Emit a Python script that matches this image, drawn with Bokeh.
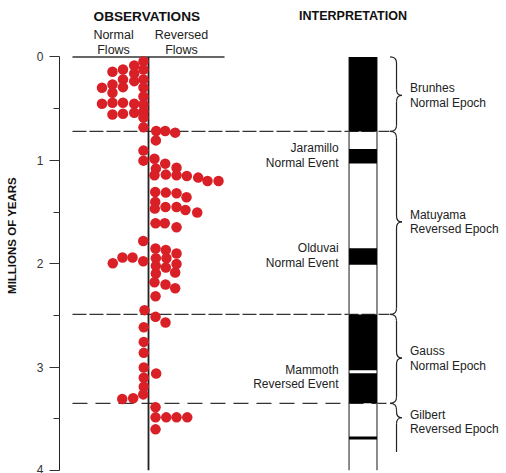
from bokeh.plotting import figure
from bokeh.models import Range1d, FixedTicker
from bokeh.core.properties import value
from bokeh.embed import file_html
from bokeh.resources import INLINE

# ---------------- data ----------------
# Observed lava flows: horizontal stacking index (negative = normal, positive = reversed), age in My
normal_x = [-0.48, -0.48, -0.48, -0.48, -0.48, -0.48, -0.48, -0.48, -0.48,
            -1.36, -1.36, -1.36, -1.36, -1.36,
            -2.43, -2.43, -2.43, -2.43, -2.43,
            -3.43, -3.43, -3.43, -3.43, -3.43,
            -4.43, -4.43,
            -0.48, -0.48, -0.50, -2.48, -1.52, -3.40, -0.50, -0.38,
            -0.45, -0.45, -0.45, -0.45, -0.45, -0.45, -0.50, -1.46, -2.50]
normal_age = [0.043, 0.121, 0.217, 0.295, 0.382, 0.459, 0.527, 0.585, 0.681,
              0.082, 0.159, 0.234, 0.452, 0.539,
              0.121, 0.217, 0.292, 0.443, 0.549,
              0.143, 0.266, 0.346, 0.443, 0.556,
              0.298, 0.452,
              0.906, 1.003, 1.780, 1.940, 1.940, 1.995, 1.976, 2.449,
              2.614, 2.756, 2.862, 3.003, 3.103, 3.190, 3.264, 3.302, 3.309]

reversed_x = [0.73, 1.59, 2.54, 0.70, 0.57, 1.59, 0.70, 2.67, 0.57, 1.65, 2.67, 3.65,
              4.73, 5.62, 6.67, 0.64, 1.65, 2.67, 3.62, 0.64, 0.60, 1.62, 2.67, 3.52,
              4.64, 0.67, 1.55, 2.67, 0.67, 1.65, 2.67, 0.70, 1.71, 2.67, 0.70, 1.65,
              0.70, 2.54, 0.57, 1.62, 2.54, 0.67, 0.67, 1.62, 0.73, 0.67, 0.67, 1.69,
              2.67, 3.69, 0.67]
reversed_age = [0.717, 0.717, 0.732, 0.807, 0.984, 1.032, 1.080, 1.071, 1.145, 1.138, 1.145, 1.152,
                1.167, 1.200, 1.200, 1.306, 1.312, 1.319, 1.357, 1.403, 1.467, 1.451, 1.451, 1.480,
                1.505, 1.609, 1.609, 1.647, 1.853, 1.867, 1.901, 1.947, 1.947, 2.002, 2.021, 2.037,
                2.095, 2.085, 2.179, 2.201, 2.237, 2.314, 2.514, 2.568, 3.061, 3.389, 3.486, 3.486,
                3.486, 3.486, 3.602]

# Interpretation: normal-polarity intervals (black)
normal_start = [0.00, 0.89, 1.85, 2.49, 3.06, 3.67]
normal_end = [0.72, 1.03, 2.01, 3.03, 3.35, 3.70]

# Epochs
epoch_name = ["Brunhes", "Matuyama", "Gauss", "Gilbert"]
epoch_kind = ["Normal Epoch", "Reversed Epoch", "Normal Epoch", "Reversed Epoch"]
epoch_start = [0.00, 0.72, 2.49, 3.35]
epoch_end = [0.72, 2.49, 3.35, 3.82]
epoch_tip = [0.372, 1.596, 2.913, 3.49]
epoch_open = [False, False, False, True]
boundary_age = [0.72, 2.49, 3.35]
boundary_dash = ["14 3", "14 3", "15 8"]

# Events
event_name = ["Jaramillo", "Olduvai", "Mammoth"]
event_kind = ["Normal Event", "Normal Event", "Reversed Event"]
event_age = [0.96, 1.93, 3.07]

age_ticks = [0, 1, 2, 3, 4]
age_minor = [0.5, 1.5, 2.5, 3.5]

# ---------------- figure ----------------
PXY = 470 / 4.546  # px per My
PXX = 10.5         # px per x unit

p = figure(width=506, height=473, output_backend="svg", toolbar_location=None,
           x_range=Range1d(-8.476, 34.095), y_range=Range1d(4.0, -0.546),
           min_border_left=59, min_border_right=0, min_border_top=0, min_border_bottom=3,
           x_axis_type=None)
p.outline_line_color = None
p.xgrid.visible = False
p.ygrid.visible = False
p.background_fill_color = "white"

ax = p.yaxis[0]
ax.ticker = FixedTicker(ticks=age_ticks, minor_ticks=age_minor)
ax.bounds = (0, 4)
ax.axis_line_color = "#222222"
ax.major_tick_out = 10
ax.major_tick_in = 0
ax.minor_tick_out = 6
ax.minor_tick_in = 0
ax.major_tick_line_color = "#333333"
ax.minor_tick_line_color = "#333333"
ax.major_label_standoff = 6
ax.major_label_text_font = "Liberation Sans"
ax.major_label_text_font_size = "12px"
ax.major_label_text_color = "#333333"
ax.axis_label = "MILLIONS OF YEARS"
ax.axis_label_text_font = "Liberation Sans"
ax.axis_label_text_font_style = "bold"
ax.axis_label_text_font_size = "11.5px"
ax.axis_label_text_color = "#111111"
ax.axis_label_standoff = 16

FONT = value("Liberation Sans")
DY = -4 / PXY  # text baseline correction

# observation frame
obs_half = 7.24
p.segment(x0=[-obs_half], y0=[0], x1=[obs_half], y1=[0], line_color="#333333", line_width=1.5)
for a, d in zip(boundary_age, boundary_dash):
    p.segment(x0=[-obs_half], y0=[a], x1=[22.95], y1=[a], line_color="#333333",
              line_width=1.3, line_dash=d)
p.segment(x0=[0], y0=[0], x1=[0], y1=[4], line_color="#222222", line_width=1.8)

# flows
p.scatter(x=normal_x, y=normal_age, size=10.5, fill_color="#d92027", line_color=None)
p.scatter(x=reversed_x, y=reversed_age, size=10.5, fill_color="#d92027", line_color=None)

# polarity column
cx0, cx1 = 19.10, 21.76
p.segment(x0=[cx0, cx1], y0=[0, 0], x1=[cx0, cx1], y1=[4, 4], line_color="#666666", line_width=1.5)
p.quad(left=cx0, right=cx1, top=normal_start, bottom=normal_end, fill_color="black", line_color=None)

# braces
bx, tipx, endx = 23.62, 24.14, 23.0
c = 6 / PXY
for s, e, t, op in zip(epoch_start, epoch_end, epoch_tip, epoch_open):
    kw = dict(line_color="#222222", line_width=1.2)
    p.quadratic(x0=[endx], y0=[s], x1=[bx], y1=[s + c], cx=[bx], cy=[s], **kw)
    p.segment(x0=[bx], y0=[s + c], x1=[bx], y1=[t - c], **kw)
    p.quadratic(x0=[bx, tipx], y0=[t - c, t], x1=[tipx, bx], y1=[t, t + c], cx=[bx, bx], cy=[t, t], **kw)
    if op:
        p.segment(x0=[bx], y0=[t + c], x1=[bx], y1=[e], **kw)
    else:
        p.segment(x0=[bx], y0=[t + c], x1=[bx], y1=[e - c], **kw)
        p.quadratic(x0=[bx], y0=[e - c], x1=[endx], y1=[e], cx=[bx], cy=[e], **kw)

# epoch labels
lab_x = 24.9
lab_anchor = [epoch_tip[0], epoch_tip[1], epoch_tip[2], epoch_tip[3] + 4 / PXY]
p.text(x=[lab_x] * 4, y=[t - 3 / PXY + DY for t in lab_anchor], text=epoch_name, text_font=FONT,
       text_font_size="12px", text_color="#222222", text_baseline="alphabetic", text_align="left")
p.text(x=[lab_x] * 4, y=[t + 11.5 / PXY + DY for t in lab_anchor], text=epoch_kind, text_font=FONT,
       text_font_size="12px", text_color="#222222", text_baseline="alphabetic", text_align="left")

# event labels
ev_x = 18.1
ev_anchor = [event_age[0], event_age[1], event_age[2] + 3.5 / PXY]
p.text(x=[ev_x] * 3, y=[t - 4 / PXY + DY for t in ev_anchor], text=event_name, text_font=FONT,
       text_font_size="12px", text_color="#222222", text_baseline="alphabetic", text_align="right")
p.text(x=[ev_x] * 3, y=[t + 10.5 / PXY + DY for t in ev_anchor], text=event_kind, text_font=FONT,
       text_font_size="12px", text_color="#222222", text_baseline="alphabetic", text_align="right")

# headers
p.text(x=[-0.16], y=[-36.5 / PXY + DY], text=["OBSERVATIONS"],
       text_font=FONT, text_font_style="bold", text_font_size="13.6px", text_color="#111111",
       text_baseline="alphabetic", text_align="center")
p.text(x=[19.48], y=[-36.5 / PXY + DY], text=["INTERPRETATION"],
       text_font=FONT, text_font_style="bold", text_font_size="12.5px", text_color="#111111",
       text_baseline="alphabetic", text_align="center")
p.text(x=[-3.33, 3.14], y=[-18.2 / PXY + DY] * 2, text=["Normal", "Reversed"], text_font=FONT,
       text_font_size="12.5px", text_color="#222222", text_baseline="alphabetic", text_align="center")
p.text(x=[-3.33, 3.14], y=[-2.5 / PXY + DY] * 2, text=["Flows", "Flows"], text_font=FONT,
       text_font_size="12.5px", text_color="#222222", text_baseline="alphabetic", text_align="center")

open("out.html", "w").write(file_html(p, INLINE))
